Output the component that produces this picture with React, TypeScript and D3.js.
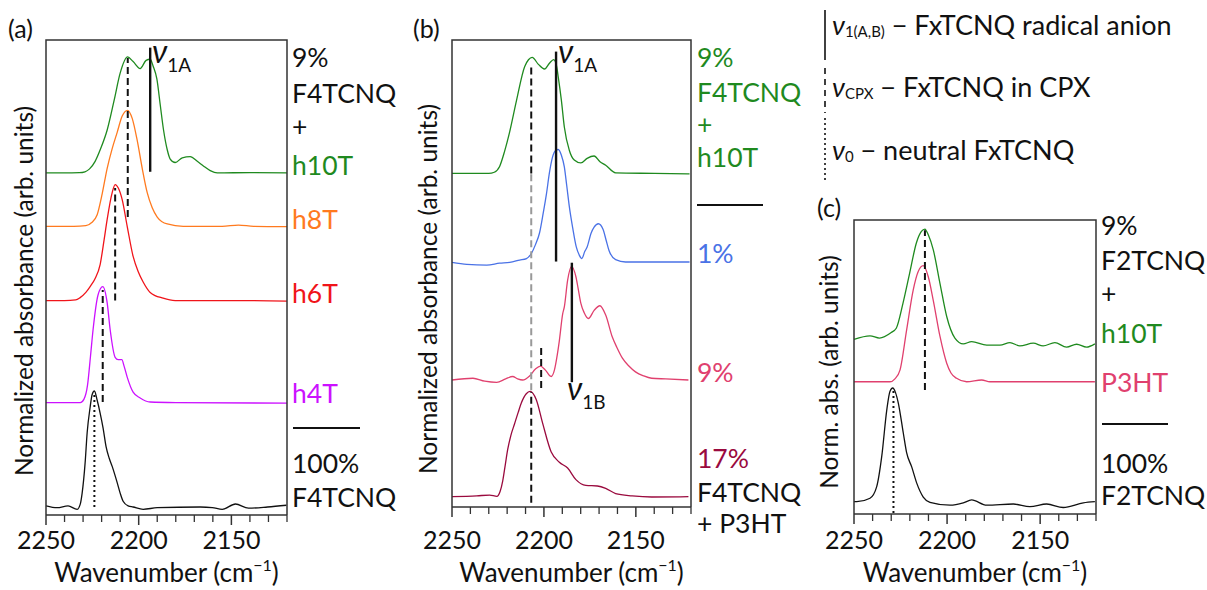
import React from "react";
import * as d3 from "d3";

type Pt = [number, number];

// ---------- shared wavenumber axis ----------
const wnDomain: [number, number] = [2250, 2120];
const majorTicks = [2250, 2200, 2150];
const minorTicks = [2240, 2230, 2220, 2210, 2190, 2180, 2170, 2160, 2140, 2130, 2120];

// ---------- (a) F4TCNQ with hnT oligomers: [wavenumber, normalized absorbance] ----------
const aH10T: Pt[] = [
  [2250, 0], [2240, 0], [2232, 0.002], [2229, 0.01], [2226.5, 0.035], [2223.5, 0.1], [2220.5, 0.21],
  [2217, 0.37], [2213.2, 0.63], [2210, 0.86], [2206, 1.0], [2203, 0.96], [2199.2, 0.9], [2196, 0.97],
  [2193.8, 0.98], [2192.2, 0.92], [2190.2, 0.81], [2188.4, 0.59], [2186.6, 0.37], [2184.6, 0.2],
  [2183, 0.12], [2180.3, 0.09], [2176.5, 0.13], [2172.2, 0.14], [2168.4, 0.1], [2165.1, 0.06],
  [2161.4, 0.02], [2157.6, 0], [2140, 0.003], [2120, 0],
];
const aH8T: Pt[] = [
  [2250, 0], [2235, 0], [2228.5, 0.005], [2225.5, 0.03], [2222.4, 0.1], [2219.7, 0.28], [2217, 0.5],
  [2214.3, 0.67], [2211.6, 0.81], [2208.9, 0.95], [2206, 1.0], [2203.5, 0.93], [2200.8, 0.74],
  [2198.1, 0.5], [2195.4, 0.29], [2192.7, 0.16], [2190, 0.08], [2184.6, 0.02], [2176, 0],
  [2155, 0], [2146.2, 0.01], [2138, 0], [2120, -0.003],
];
const aH6T: Pt[] = [
  [2250, 0], [2240, 0], [2234, 0.005], [2231.6, 0.025], [2228.5, 0.07], [2226.2, 0.12], [2223.5, 0.19],
  [2220.8, 0.31], [2218.6, 0.53], [2217, 0.7], [2214.3, 0.93], [2212.7, 1.0], [2211, 0.97],
  [2208.9, 0.87], [2206.2, 0.64], [2203, 0.38], [2200.3, 0.25], [2197.6, 0.16], [2193.8, 0.07],
  [2186.8, 0.02], [2180.3, 0], [2150, 0], [2120, -0.005],
];
const aH4T: Pt[] = [
  [2250, 0], [2240, 0], [2231.5, 0], [2229.5, 0.03], [2227.6, 0.15], [2226, 0.4], [2224.6, 0.63],
  [2221.9, 0.93], [2219.4, 1.0], [2217, 0.86], [2215.4, 0.63], [2212.7, 0.39], [2211.1, 0.37],
  [2209.1, 0.37], [2207.8, 0.31], [2206.2, 0.22], [2203, 0.09], [2199.2, 0.04], [2193.8, 0.005],
  [2180, 0], [2120, -0.005],
];
const aNeat: Pt[] = [
  [2250, 0.01], [2244, -0.006], [2238.1, 0.01], [2233.2, -0.02], [2231.6, 0.02], [2230.5, 0.12],
  [2228.9, 0.38], [2227.8, 0.64], [2226.2, 0.86], [2225.1, 0.97], [2223.9, 1.0], [2222.4, 0.92],
  [2220.8, 0.81], [2219.2, 0.68], [2217.6, 0.52], [2215.9, 0.42], [2214.3, 0.35], [2211.6, 0.21],
  [2210, 0.12], [2208.4, 0.05], [2205.7, 0.01], [2203, 0], [2197.6, -0.02], [2190, -0.006],
  [2166.8, 0], [2160.3, -0.005], [2154.9, -0.02], [2147.8, 0.026], [2140.8, -0.01],
  [2130.5, 0], [2120.3, 0.015],
];
const aOffsets = [2.88, 2.42, 1.78, 0.9, 0];

// ---------- (b) F4TCNQ in h10T and P3HT ----------
const bH10T: Pt[] = [
  [2250, 0], [2230, 0], [2227, 0.01], [2224.1, 0.06], [2221.4, 0.19], [2218.6, 0.36], [2214.9, 0.63],
  [2210.5, 0.92], [2208.4, 0.98], [2206.4, 1.0], [2203, 0.94], [2199.7, 0.9], [2197, 0.95],
  [2194.7, 0.98], [2193.2, 0.93], [2192.2, 0.83], [2190.5, 0.63], [2188.9, 0.4], [2186.2, 0.2],
  [2183.5, 0.115], [2179.9, 0.09], [2176.5, 0.13], [2172.7, 0.15], [2169.5, 0.1], [2166.4, 0.07],
  [2161, 0.005], [2140, 0], [2120.8, -0.005],
];
const bP3HT1: Pt[] = [
  [2250, -0.003], [2241.9, -0.02], [2231.1, -0.026], [2224.1, -0.01], [2218.6, -0.003],
  [2213.2, 0.017], [2209.5, 0.03], [2206.8, 0.075], [2204.6, 0.15], [2202.4, 0.25], [2200.3, 0.43],
  [2198.6, 0.59], [2197, 0.77], [2195.4, 0.9], [2193.8, 0.96], [2192.2, 0.97], [2190.5, 0.92],
  [2188.9, 0.82], [2187.6, 0.66], [2186.2, 0.48], [2184.3, 0.29], [2182.4, 0.13], [2180.8, 0.06],
  [2179.4, 0.03], [2177.8, 0.09], [2176.5, 0.13], [2174.3, 0.25], [2172.7, 0.3], [2170.4, 0.33],
  [2167.8, 0.28], [2166.2, 0.19], [2164.6, 0.1], [2161, 0.02], [2155.6, 0], [2120.8, 0],
];
const bP3HT9: Pt[] = [
  [2250, 0], [2238.6, 0.015], [2232.2, -0.01], [2225.7, -0.02], [2220.8, 0.01], [2217, 0.03],
  [2214.3, 0.01], [2211.6, 0], [2207.8, 0.035], [2204.6, 0.095], [2201.9, 0.12], [2199.2, 0.085],
  [2196.1, 0.03], [2194.3, 0.085], [2192.7, 0.22], [2191.6, 0.34], [2189.8, 0.57], [2188.9, 0.63],
  [2187.1, 0.86], [2185, 0.98], [2182.6, 0.89], [2181.4, 0.79], [2179.9, 0.66], [2178.1, 0.58],
  [2175.8, 0.53], [2172.7, 0.6], [2169.6, 0.64], [2166.4, 0.56], [2162.8, 0.37], [2160.3, 0.28],
  [2157.4, 0.19], [2153.8, 0.12], [2150.2, 0.07], [2145.7, 0.035], [2141.4, 0.015],
  [2133.8, 0.009], [2121.4, 0],
];
const bP3HT17: Pt[] = [
  [2250, 0.003], [2236.5, 0.01], [2229.5, 0.017], [2225.6, 0.005], [2223.8, 0.05], [2222.4, 0.14],
  [2221, 0.28], [2219.7, 0.41], [2218, 0.53], [2216, 0.63], [2214, 0.73], [2212.3, 0.81],
  [2209.6, 0.89], [2207.5, 0.91], [2204.2, 0.84], [2200.6, 0.63], [2196.1, 0.39], [2191.6, 0.3],
  [2187.1, 0.25], [2182.6, 0.15], [2177.2, 0.1], [2170.9, 0.095], [2166.4, 0.075], [2161, 0.03],
  [2152, 0.01], [2141.4, 0], [2121.4, 0.003],
];
const bOffsets = [2.79, 2.026, 1.009, 0];

// ---------- (c) F2TCNQ ----------
const cH10T: Pt[] = [
  [2250, 0.04], [2241.4, 0.07], [2236.3, 0.05], [2230, 0.098], [2227.3, 0.135], [2223.7, 0.35],
  [2220.1, 0.61], [2216.5, 0.87], [2213.8, 0.97], [2211.9, 0.99], [2210.1, 0.94], [2207.4, 0.81],
  [2203.8, 0.52], [2200.2, 0.236], [2195.8, 0.05], [2191.3, 0], [2186.8, 0.02], [2178.7, -0.01],
  [2171.6, -0.01], [2166.2, 0.011], [2160.9, -0.017], [2153.7, 0.006], [2148.4, -0.017],
  [2142.1, 0.011], [2135.8, -0.028], [2130.4, -0.003], [2125.1, -0.028], [2120.6, 0],
];
const cP3HT: Pt[] = [
  [2250, 0], [2230.7, 0], [2228, 0.025], [2225.3, 0.1], [2221.7, 0.45], [2218.2, 0.79],
  [2215.5, 0.95], [2212.8, 1.0], [2210.1, 0.905], [2207.4, 0.7], [2203.8, 0.39], [2200.2, 0.16],
  [2197.9, 0.075], [2194.9, 0.03], [2189.5, 0], [2181.4, 0.015], [2177, 0], [2120.6, 0],
];
const cNeat: Pt[] = [
  [2250, 0], [2248.5, 0], [2241.4, 0.03], [2237.8, 0.13], [2235.1, 0.39], [2232.4, 0.79],
  [2230.7, 0.95], [2229.2, 0.98], [2227.7, 0.94], [2226.2, 0.85], [2223.5, 0.59], [2221.7, 0.42],
  [2219, 0.3], [2216.3, 0.16], [2212.8, 0.04], [2209.2, -0.005], [2198.4, -0.03], [2191.3, -0.01],
  [2186.8, 0.015], [2178.7, -0.03], [2164.4, -0.02], [2155.5, -0.043], [2146.5, -0.02],
  [2137.6, -0.05], [2126.8, -0.01], [2120.6, 0],
];
const cOffsets = [1.36, 1.034, 0];

// ---------- band markers: [wavenumber, from, to] in offset absorbance units ----------
const aRadical: [number, number, number][] = [[2193.8, 2.89, 3.96]];
const aComplex: [number, number, number][] = [
  [2205.9, 2.5, 3.87], [2212.7, 1.78, 2.75], [2219.4, 0.905, 1.87],
];
const aNeutral: [number, number, number][] = [[2223.9, 0, 0.965]];

const bRadical: [number, number, number][] = [[2193.4, 2.03, 3.84], [2184.8, 0.99, 2.02]];
const bComplex: [number, number, number][] = [[2206.9, 2.79, 3.72], [2206.9, -0.05, 0.905], [2201.5, 0.94, 1.29]];
const bComplexGuide: [number, number, number][] = [[2206.9, 0.92, 2.79]];

const cComplex: [number, number, number][] = [[2211.9, 0.963, 2.34]];
const cNeutral: [number, number, number][] = [[2228.8, -0.097, 0.963]];

const FONT = "Lato, 'Open Sans', 'DejaVu Sans', sans-serif";

const GREEN = "#1f8a1f";
const ORANGE = "#ff7a1f";
const RED = "#f0141a";
const MAGENTA = "#cc11ff";
const BLUE = "#4a72e6";
const PINK = "#e0406e";
const WINE = "#9a0a3e";

interface Frame {
  left: number;
  right: number;
  top: number;
  bottom: number;
  yDomain: [number, number];
}

interface Series {
  data: Pt[];
  offset: number;
  color: string;
}

interface MarkerSet {
  items: [number, number, number][];
  dash: string | null;
  color: string;
  width: number;
}

function Panel({ frame, series, markers, yTitle, yTitleX, yTitleY }: {
  frame: Frame;
  series: Series[];
  markers: MarkerSet[];
  yTitle: string;
  yTitleX: number;
  yTitleY: number;
}) {
  const x = d3.scaleLinear().domain(wnDomain).range([frame.left, frame.right]);
  const y = d3.scaleLinear().domain(frame.yDomain).range([frame.bottom, frame.top]);
  const midX = (frame.left + frame.right) / 2;
  return (
    <g>
      {series.map((s, i) => {
        const line = d3
          .line<Pt>()
          .x((d) => x(d[0]))
          .y((d) => y(d[1] + s.offset))
          .curve(d3.curveMonotoneX);
        return <path key={i} d={line(s.data) ?? ""} fill="none" stroke={s.color} strokeWidth={1.3} />;
      })}
      {markers.map((m, i) =>
        m.items.map((it, j) => (
          <line
            key={`${i}-${j}`}
            x1={x(it[0])}
            x2={x(it[0])}
            y1={y(it[1])}
            y2={y(it[2])}
            stroke={m.color}
            strokeWidth={m.width}
            strokeDasharray={m.dash ?? undefined}
          />
        ))
      )}
      <path
        d={`M${frame.left},${frame.bottom}V${frame.top}H${frame.right}V${frame.bottom}`}
        fill="none"
        stroke="#333"
        strokeWidth={1.5}
      />
      <line x1={frame.left} x2={frame.right} y1={frame.bottom} y2={frame.bottom} stroke="#333" strokeWidth={1.5} />
      {majorTicks.map((t) => (
        <g key={t}>
          <line x1={x(t)} x2={x(t)} y1={frame.bottom} y2={frame.bottom + 10} stroke="#333" strokeWidth={1.5} />
          <text x={x(t)} y={549} textAnchor="middle" fontSize={25} fontFamily={FONT} fill="#111">
            {t}
          </text>
        </g>
      ))}
      {minorTicks.map((t) => (
        <line key={t} x1={x(t)} x2={x(t)} y1={frame.bottom} y2={frame.bottom + 7} stroke="#333" strokeWidth={1.3} />
      ))}
      <text x={midX} y={582} textAnchor="middle" fontSize={26} fontFamily={FONT} fill="#111">
        Wavenumber (cm
        <tspan fontSize={16} dy={-11}>−1</tspan>
        <tspan dy={11}>)</tspan>
      </text>
      <text
        transform={`translate(${yTitleX},${yTitleY}) rotate(-90)`}
        textAnchor="middle"
        fontSize={24.5}
        fontFamily={FONT}
        fill="#111"
      >
        {yTitle}
      </text>
    </g>
  );
}

function SideLabel({ x, y, text, color }: { x: number; y: number; text: string; color?: string }) {
  return (
    <text x={x} y={y} fontSize={26.5} fontFamily={FONT} fill={color ?? "#111"}>
      {text}
    </text>
  );
}

function NuLabel({ x, y, sub }: { x: number; y: number; sub: string }) {
  return (
    <text x={x} y={y} fontSize={32} fontFamily={FONT} fill="#111">
      <tspan fontStyle="italic">ν</tspan>
      <tspan fontSize={19} dy={9}>{sub}</tspan>
    </text>
  );
}

export default function App() {
  const frameA: Frame = { left: 46, right: 287, top: 40, bottom: 515, yDomain: [-0.069, 4.026] };
  const frameB: Frame = { left: 452, right: 691, top: 40, bottom: 507, yDomain: [-0.086, 3.94] };
  const frameC: Frame = { left: 854, right: 1096, top: 220, bottom: 514, yDomain: [-0.106, 2.428] };

  const aSeries: Series[] = [aH10T, aH8T, aH6T, aH4T, aNeat].map((d, i) => ({
    data: d,
    offset: aOffsets[i],
    color: [GREEN, ORANGE, RED, MAGENTA, "#111"][i],
  }));
  const bSeries: Series[] = [bH10T, bP3HT1, bP3HT9, bP3HT17].map((d, i) => ({
    data: d,
    offset: bOffsets[i],
    color: [GREEN, BLUE, PINK, WINE][i],
  }));
  const cSeries: Series[] = [cH10T, cP3HT, cNeat].map((d, i) => ({
    data: d,
    offset: cOffsets[i],
    color: [GREEN, PINK, "#111"][i],
  }));

  return (
    <svg
      width={1207}
      height={590}
      viewBox="0 0 1207 590"
      style={{ position: "absolute", left: 0, top: 0, background: "#fff" }}
    >
      <rect width={1207} height={590} fill="#fff" />

      {/* (a) */}
      <text x={8} y={38} fontSize={25} fontFamily={FONT} fill="#111">(a)</text>
      <Panel
        frame={frameA}
        series={aSeries}
        markers={[
          { items: aRadical, dash: null, color: "#111", width: 2.4 },
          { items: aComplex, dash: "7,4", color: "#111", width: 2 },
          { items: aNeutral, dash: "2,3", color: "#111", width: 2 },
        ]}
        yTitle="Normalized absorbance (arb. units)"
        yTitleX={33}
        yTitleY={291}
      />
      <NuLabel x={152} y={63} sub="1A" />
      <SideLabel x={292} y={67} text="9%" />
      <SideLabel x={292} y={103} text="F4TCNQ" />
      <SideLabel x={292} y={136} text="+" />
      <SideLabel x={292} y={175} text="h10T" color={GREEN} />
      <SideLabel x={292} y={229} text="h8T" color={ORANGE} />
      <SideLabel x={292} y={303} text="h6T" color={RED} />
      <SideLabel x={292} y={403} text="h4T" color={MAGENTA} />
      <line x1={293} x2={360} y1={428} y2={428} stroke="#111" strokeWidth={2} />
      <SideLabel x={292} y={473} text="100%" />
      <SideLabel x={292} y={507} text="F4TCNQ" />

      {/* (b) */}
      <text x={413} y={38} fontSize={25} fontFamily={FONT} fill="#111">(b)</text>
      <Panel
        frame={frameB}
        series={bSeries}
        markers={[
          { items: bComplexGuide, dash: "7,4", color: "#999", width: 2 },
          { items: bComplex, dash: "7,4", color: "#111", width: 2 },
          { items: bRadical, dash: null, color: "#111", width: 2.4 },
        ]}
        yTitle="Normalized absorbance (arb. units)"
        yTitleX={437}
        yTitleY={289}
      />
      <NuLabel x={558} y={63} sub="1A" />
      <NuLabel x={567} y={400} sub="1B" />
      <SideLabel x={697} y={67} text="9%" color={GREEN} />
      <SideLabel x={697} y={102} text="F4TCNQ" color={GREEN} />
      <SideLabel x={697} y={134} text="+" color={GREEN} />
      <SideLabel x={697} y={167} text="h10T" color={GREEN} />
      <line x1={697} x2={763} y1={205} y2={205} stroke="#111" strokeWidth={2} />
      <SideLabel x={697} y={263} text="1%" color={BLUE} />
      <SideLabel x={697} y={382} text="9%" color={PINK} />
      <SideLabel x={697} y={468} text="17%" color={WINE} />
      <SideLabel x={697} y={502} text="F4TCNQ" />
      <SideLabel x={697} y={533} text="+ P3HT" />

      {/* (c) */}
      <text x={817} y={217} fontSize={25} fontFamily={FONT} fill="#111">(c)</text>
      <Panel
        frame={frameC}
        series={cSeries}
        markers={[
          { items: cComplex, dash: "7,4", color: "#111", width: 2 },
          { items: cNeutral, dash: "2,3", color: "#111", width: 2 },
        ]}
        yTitle="Norm. abs. (arb. units)"
        yTitleX={838}
        yTitleY={372}
      />
      <SideLabel x={1101} y={235} text="9%" />
      <SideLabel x={1101} y={270} text="F2TCNQ" />
      <SideLabel x={1101} y={303} text="+" />
      <SideLabel x={1101} y={343} text="h10T" color={GREEN} />
      <SideLabel x={1101} y={392} text="P3HT" color={PINK} />
      <line x1={1102} x2={1168} y1={424} y2={424} stroke="#111" strokeWidth={2} />
      <SideLabel x={1101} y={473} text="100%" />
      <SideLabel x={1101} y={505} text="F2TCNQ" />

      {/* band legend */}
      <line x1={825} x2={825} y1={10} y2={60} stroke="#111" strokeWidth={1.6} />
      <line x1={825} x2={825} y1={68} y2={113} stroke="#111" strokeWidth={1.6} strokeDasharray="6,5" />
      <line x1={825} x2={825} y1={118} y2={180} stroke="#111" strokeWidth={1.6} strokeDasharray="2,3" />
      <text x={832} y={35} fontSize={27} fontFamily={FONT} fill="#111">
        <tspan fontStyle="italic">ν</tspan>
        <tspan fontSize={15} dy={2}>1(A,B)</tspan>
        <tspan dy={-2}> − FxTCNQ radical anion</tspan>
      </text>
      <text x={832} y={97} fontSize={27} fontFamily={FONT} fill="#111">
        <tspan fontStyle="italic">ν</tspan>
        <tspan fontSize={15} dy={2}>CPX</tspan>
        <tspan dy={-2}> − FxTCNQ in CPX</tspan>
      </text>
      <text x={832} y={160} fontSize={27} fontFamily={FONT} fill="#111">
        <tspan fontStyle="italic">ν</tspan>
        <tspan fontSize={15} dy={2}>0</tspan>
        <tspan dy={-2}> − neutral FxTCNQ</tspan>
      </text>
    </svg>
  );
}
